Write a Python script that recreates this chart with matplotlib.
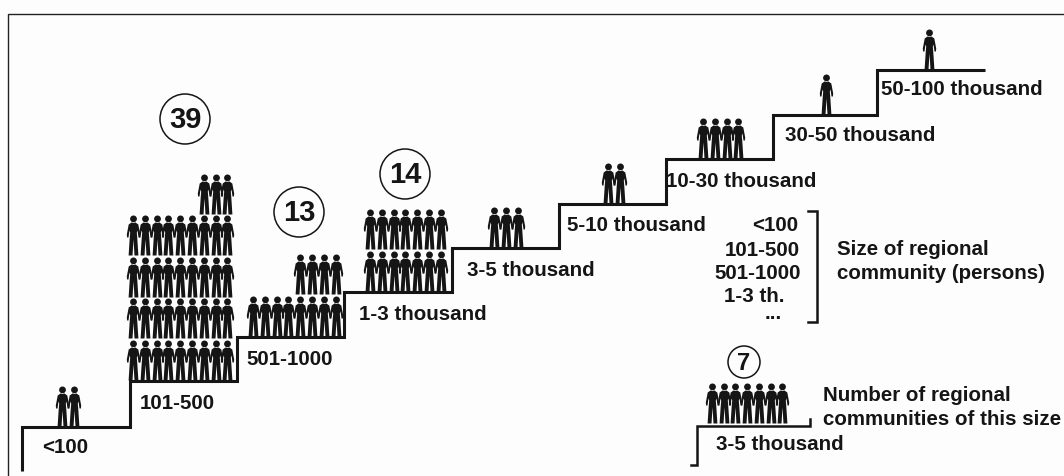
import matplotlib
matplotlib.use("Agg")
import matplotlib.pyplot as plt
from matplotlib.patches import Circle
from matplotlib.path import Path

plt.rcParams['font.family'] = ['Liberation Sans', 'DejaVu Sans']

# data
size_labels = ["<100", "101-500", "501-1000", "1-3 thousand", "3-5 thousand",
               "5-10 thousand", "10-30 thousand", "30-50 thousand", "50-100 thousand"]
figures_drawn = [2, 39, 12, 14, 3, 2, 4, 1, 1]
figures_per_row = [2, 9, 8, 7, 3, 2, 4, 1, 1]
circle_values = ["39", "13", "14"]
scale_labels = ["<100", "101-500", "501-1000", "1-3 th.", "..."]
legend_count = 7
legend_number = "7"
legend_size = "3-5 thousand"

# layout, in pixels of the 1064x477 picture
stair_x = [22, 130, 237, 344, 452, 559, 666, 773, 877, 985]
stair_y = [428, 382, 338, 293, 249, 205, 160, 116, 71]
figure_x0 = [62, 133, 253, 370, 494, 608, 703, 826, 929]
label_x = [42, 140, 246, 359, 467, 567, 666, 785, 881]
label_y = [453, 409, 365, 320, 276, 231, 187, 141, 95]
circle_xy = [(185, 120), (299, 213), (405, 175)]
STEP = 11.8
ROW = 41.5
INK = "#151515"
FS = 14.8

# one person, y up, 1 unit = half a figure height
half = [(0, 13), (2.0, 13), (4.8, 11), (6.7, 1), (6.4, -2), (5.0, -2), (4.0, 5), (3.3, 3),
        (3.8, -3), (4.9, -20), (1.0, -20), (0, -4)]
right = [(x / 20, y / 20) for x, y in half]
left = [(-x, y) for x, y in reversed(right[1:-1])]
body = Path(right + left + [right[0]], closed=True)
head = Path.circle((0, 16.6 / 20), 3.4 / 20)
person = Path.make_compound_path(body, head)
PERSON_S = (40 * 72 / 100) ** 2

fig = plt.figure(figsize=(10.64, 4.77), dpi=100, facecolor="#fdfdfd")
ax = fig.add_axes([0, 0, 1, 1])
ax.set_xlim(0, 1064)
ax.set_ylim(477, 0)
ax.axis("off")


def draw_people(x0, feet, count, per_row, step=STEP, row=ROW):
    xs, ys = [], []
    n_rows = count // per_row
    for r in range(n_rows):
        for i in range(per_row):
            xs.append(x0 + i * step)
            ys.append(feet - 20 - r * row)
    extra = count - n_rows * per_row
    for i in range(extra):
        xs.append(x0 + (per_row - extra + i) * step)
        ys.append(feet - 20 - n_rows * row)
    ax.scatter(xs, ys, s=PERSON_S, marker=person, color=INK, linewidths=0, zorder=3)


def number_circle(xy, text, r, size):
    ax.add_patch(Circle(xy, r, fc="none", ec=INK, lw=1.1))
    ax.text(xy[0], xy[1] + 0.5, text, ha="center", va="center", fontsize=size,
            fontweight="bold", color=INK)


# frame, only top and left show
ax.plot([8, 8, 1064], [477, 15, 15], color="#222222", lw=1.0, solid_joinstyle="miter")

# stairs
xs = [stair_x[0]]
ys = [472]
for i, y in enumerate(stair_y):
    xs += [stair_x[i], stair_x[i + 1]]
    ys += [y, y]
ax.plot(xs, ys, color=INK, lw=2.2, solid_joinstyle="miter", solid_capstyle="butt")

for i, label in enumerate(size_labels):
    draw_people(figure_x0[i], stair_y[i] - 1.5, figures_drawn[i], figures_per_row[i])
    ax.text(label_x[i], label_y[i], label, fontsize=FS, fontweight="bold", color=INK,
            va="baseline", ha="left")

for xy, val in zip(circle_xy, circle_values):
    number_circle(xy, val, 25, 21)

# size key
key_right = [798, 800, 801, 785, 782]
key_y = [231, 256, 279, 302, 319]
for x, y, label in zip(key_right, key_y, scale_labels):
    ax.text(x, y, label, ha="right", va="baseline", fontsize=FS, fontweight="bold", color=INK)
ax.plot([808, 817, 817, 808], [212, 212, 323, 323], color=INK, lw=1.8, solid_joinstyle="miter")
ax.text(837, 255, "Size of regional", fontsize=FS, fontweight="bold", color=INK)
ax.text(837, 279, "community (persons)", fontsize=FS, fontweight="bold", color=INK)

# count key
number_circle((744, 363), legend_number, 16, 17)
draw_people(712, 424, legend_count, legend_count, step=11.7)
ax.plot([691, 697, 697, 810, 810], [466, 466, 427, 427, 420], color=INK, lw=1.8,
        solid_joinstyle="miter")
ax.text(716, 450, legend_size, fontsize=FS, fontweight="bold", color=INK)
ax.text(823, 401, "Number of regional", fontsize=FS, fontweight="bold", color=INK)
ax.text(823, 425, "communities of this size", fontsize=FS, fontweight="bold", color=INK)

fig.savefig("out.png", dpi=100, facecolor=fig.get_facecolor())
